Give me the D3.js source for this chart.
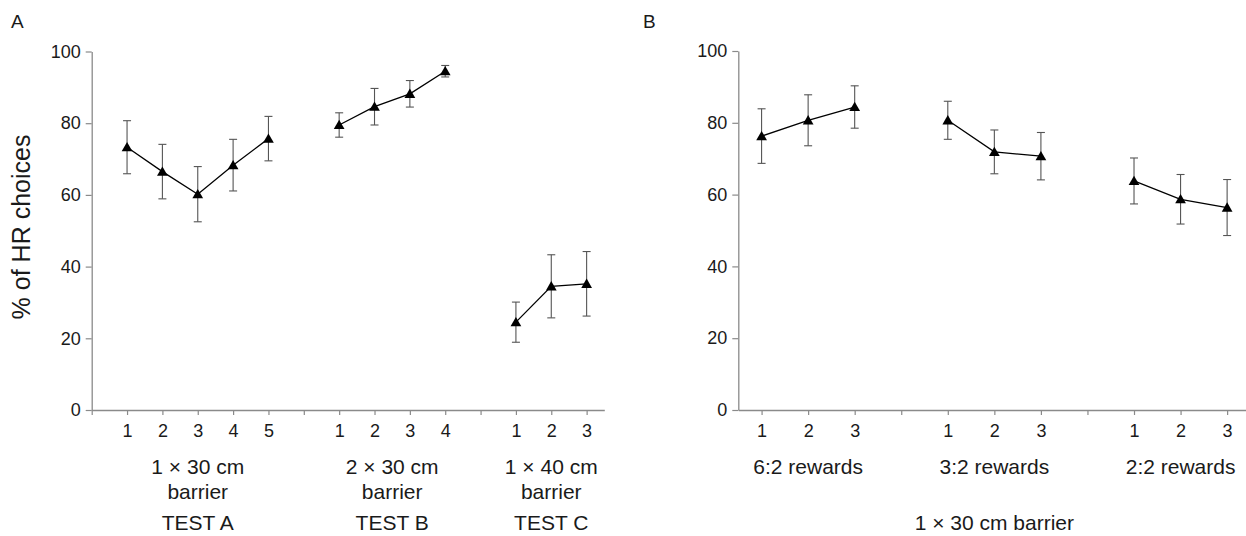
<!DOCTYPE html>
<html>
<head>
<meta charset="utf-8">
<script src="https://cdn.jsdelivr.net/npm/d3@7"></script>
<style>
  body { margin: 0; background: #fff; }
  text { font-family: "Liberation Sans", Arial, Helvetica, sans-serif; fill: #1a1a1a; }
</style>
</head>
<body>
<div id="chart"></div>
<script>
// ---- data ----
const yTicks = [0, 20, 40, 60, 80, 100];

// panel A
const labelsA = [["1 × 30 cm", "barrier", "TEST A"], ["2 × 30 cm", "barrier", "TEST B"], ["1 × 40 cm", "barrier", "TEST C"]];
const trialsA = [[1, 2, 3, 4, 5], [1, 2, 3, 4], [1, 2, 3]];
const meansA = [[73.3, 66.5, 60.2, 68.3, 75.7], [79.5, 84.6, 88.2, 94.5], [24.5, 34.5, 35.2]];
const semA = [[7.4, 7.6, 7.7, 7.2, 6.2], [3.4, 5.1, 3.7, 1.6], [5.6, 8.8, 9.0]];

// panel B
const labelsB = [["6:2 rewards"], ["3:2 rewards"], ["2:2 rewards"]];
const trialsB = [[1, 2, 3], [1, 2, 3], [1, 2, 3]];
const meansB = [[76.3, 80.7, 84.4], [80.7, 71.9, 70.7], [63.8, 58.7, 56.4]];
const semB = [[7.6, 7.1, 5.9], [5.3, 6.1, 6.6], [6.4, 6.9, 7.8]];

// ---- svg ----
const width = 1246, height = 536;
const svg = d3.select("#chart").append("svg")
  .attr("width", width)
  .attr("height", height);

const axisColor = "#8a8a8a";
const barColor = "#555";

function drawPanel(cfg) {
  const g = svg.append("g");

  const x = d3.scaleLinear().domain(cfg.xDomain).range(cfg.xRange);
  const y = d3.scaleLinear().domain([0, 100]).range(cfg.yRange);

  // each group gets its own slots, one empty slot between groups
  let slot = 1;
  const groups = cfg.trials.map((tr, gi) => {
    const pts = tr.map((t, j) => ({slot: slot + j, trial: t, mean: cfg.means[gi][j], sem: cfg.sems[gi][j]}));
    const center = slot + (tr.length - 1) / 2;
    slot += tr.length + 1;
    return {pts, center, labels: cfg.labels[gi]};
  });
  const lastSlot = slot - 2;

  const tickVals = d3.range(cfg.firstTick, lastSlot + 1);
  const trialAt = new Map();
  groups.forEach(gr => gr.pts.forEach(p => trialAt.set(p.slot, p.trial)));

  // y axis
  const yAxis = g.append("g")
    .attr("transform", `translate(${cfg.xRange[0]},0)`)
    .call(d3.axisLeft(y).tickValues(yTicks).tickSize(6).tickSizeOuter(0).tickPadding(5));
  // x axis
  const xAxis = g.append("g")
    .attr("transform", `translate(0,${cfg.yRange[0]})`)
    .call(d3.axisBottom(x).tickValues(tickVals).tickSize(5).tickSizeOuter(0).tickPadding(9)
      .tickFormat(d => trialAt.has(d) ? trialAt.get(d) : ""));

  [yAxis, xAxis].forEach(a => {
    a.select(".domain").attr("stroke", axisColor).attr("stroke-width", 1.3);
    a.selectAll(".tick line").attr("stroke", axisColor).attr("stroke-width", 1.2);
    a.selectAll(".tick text").attr("fill", "#1a1a1a")
      .style("font-size", "18px")
      .style("font-family", '"Liberation Sans", Arial, sans-serif');
  });

  const line = d3.line().x(d => x(d.slot)).y(d => y(d.mean));

  groups.forEach(gr => {
    const gg = g.append("g");

    // error bars
    const eb = gg.selectAll("g.eb").data(gr.pts).join("g").attr("class", "eb");
    eb.append("line")
      .attr("x1", d => x(d.slot)).attr("x2", d => x(d.slot))
      .attr("y1", d => y(d.mean + d.sem)).attr("y2", d => y(d.mean - d.sem))
      .attr("stroke", barColor).attr("stroke-width", 1.1);
    [1, -1].forEach(s => {
      eb.append("line")
        .attr("x1", d => x(d.slot) - 4).attr("x2", d => x(d.slot) + 4)
        .attr("y1", d => y(d.mean + s * d.sem)).attr("y2", d => y(d.mean + s * d.sem))
        .attr("stroke", barColor).attr("stroke-width", 1.1);
    });

    // connecting line
    gg.append("path")
      .datum(gr.pts)
      .attr("d", line)
      .attr("fill", "none")
      .attr("stroke", "#000")
      .attr("stroke-width", 1.3);

    // triangle markers
    gg.selectAll("path.mk").data(gr.pts).join("path")
      .attr("class", "mk")
      .attr("transform", d => `translate(${x(d.slot)},${y(d.mean) + 1})`)
      .attr("d", d3.symbol().type(d3.symbolTriangle).size(50))
      .attr("fill", "#000");

    // group labels
    gr.labels.forEach((t, i) => {
      g.append("text")
        .attr("x", x(gr.center))
        .attr("y", cfg.labelY[i])
        .attr("text-anchor", "middle")
        .style("font-size", "21px")
        .text(t);
    });
  });

  return {x, y};
}

const pA = drawPanel({
  xDomain: [0, 14.5], xRange: [91.7, 604.3], yRange: [410, 51.5],
  firstTick: 0,
  trials: trialsA, means: meansA, sems: semA, labels: labelsA,
  labelY: [474, 499, 530]
});

const pB = drawPanel({
  xDomain: [0.5, 11.5], xRange: [738.3, 1250.4], yRange: [410, 51],
  firstTick: 1,
  trials: trialsB, means: meansB, sems: semB, labels: labelsB,
  labelY: [474]
});

// panel letters
svg.append("text").attr("x", 11).attr("y", 28).style("font-size", "19px").text("A");
svg.append("text").attr("x", 643).attr("y", 28).style("font-size", "19px").text("B");

// y title
svg.append("text")
  .attr("transform", "translate(30,227) rotate(-90)")
  .attr("text-anchor", "middle")
  .style("font-size", "25px")
  .text("% of HR choices");

// common label under panel B
svg.append("text")
  .attr("x", pB.x(6))
  .attr("y", 530)
  .attr("text-anchor", "middle")
  .style("font-size", "21px")
  .text("1 × 30 cm barrier");
</script>
</body>
</html>
